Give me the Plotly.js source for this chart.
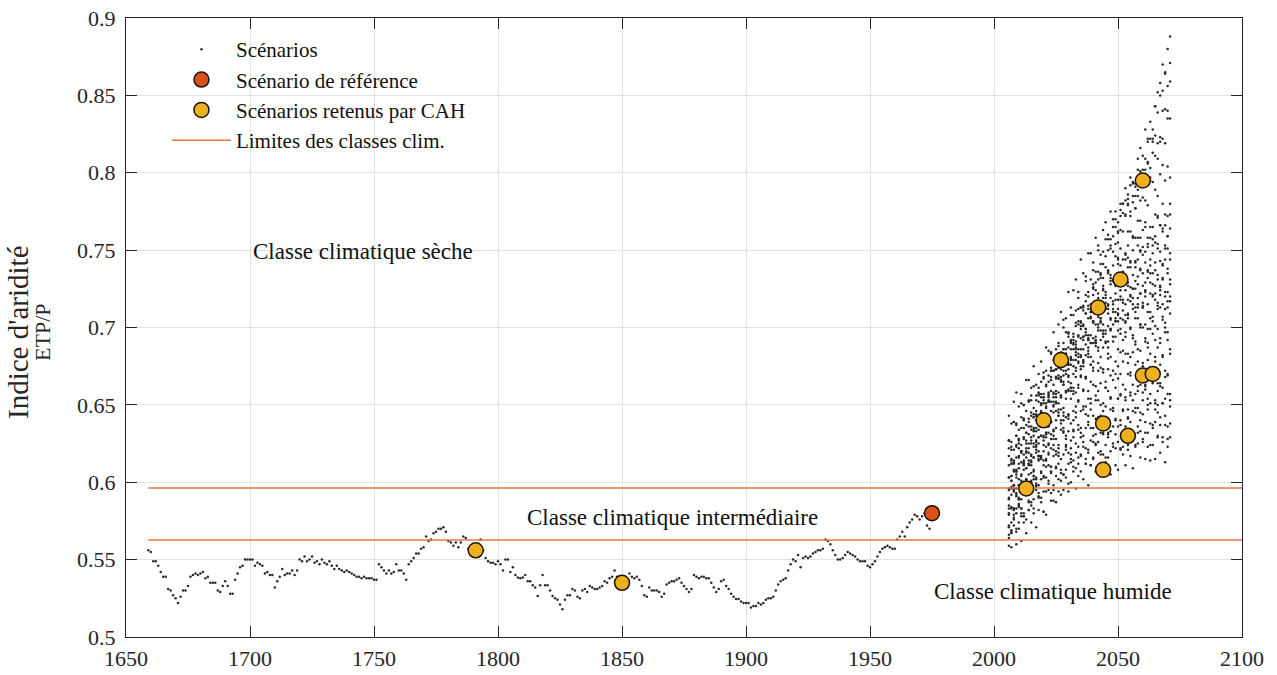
<!DOCTYPE html>
<html>
<head>
<meta charset="utf-8">
<script src="https://cdn.plot.ly/plotly-3.0.1.min.js"></script>
<style>html,body{margin:0;padding:0;background:#fff;}#chart{width:1277px;height:675px;}</style>
</head>
<body>
<div id="chart"></div>
<script>
// ---------- Historical reconstruction (one value per year, starting 1659) ----------
const histStartYear = 1659;
const histValues = [
0.556,0.555,0.549,0.549,0.546,0.542,0.539,0.539,0.531,0.530,
0.527,0.525,0.522,0.526,0.530,0.530,0.533,0.539,0.540,0.541,
0.540,0.541,0.542,0.538,0.539,0.535,0.535,0.535,0.530,0.529,
0.533,0.536,0.533,0.528,0.528,0.537,0.541,0.545,0.546,0.550,
0.550,0.550,0.550,0.546,0.548,0.547,0.546,0.541,0.542,0.540,
0.540,0.532,0.536,0.539,0.544,0.540,0.541,0.541,0.543,0.540,
0.543,0.550,0.549,0.552,0.549,0.550,0.552,0.548,0.549,0.547,
0.550,0.548,0.547,0.549,0.546,0.544,0.546,0.544,0.543,0.542,
0.543,0.542,0.541,0.540,0.539,0.539,0.538,0.539,0.538,0.538,
0.538,0.537,0.537,0.547,0.545,0.543,0.541,0.543,0.541,0.542,
0.547,0.543,0.543,0.541,0.537,0.547,0.549,0.551,0.554,0.554,
0.557,0.558,0.565,0.562,0.563,0.567,0.568,0.570,0.570,0.571,
0.568,0.562,0.561,0.559,0.561,0.558,0.561,0.565,0.564,0.557,
0.556,0.557,0.556,0.558,0.563,0.556,0.551,0.549,0.548,0.548,
0.547,0.549,0.547,0.543,0.550,0.550,0.542,0.545,0.540,0.5385,
0.538,0.5385,0.540,0.536,0.536,0.5335,0.532,0.5265,0.5335,0.540,
0.5335,0.5335,0.530,0.5265,0.525,0.524,0.521,0.518,0.524,0.527,
0.527,0.531,0.530,0.526,0.525,0.530,0.531,0.529,0.533,0.532,
0.531,0.531,0.532,0.533,0.536,0.535,0.538,0.539,0.543,0.539,
0.537,0.536,0.535,0.537,0.541,0.539,0.538,0.539,0.537,0.533,
0.527,0.526,0.532,0.530,0.530,0.530,0.529,0.526,0.528,0.534,
0.535,0.536,0.536,0.537,0.538,0.535,0.533,0.531,0.529,0.531,
0.540,0.539,0.538,0.539,0.539,0.538,0.538,0.535,0.532,0.529,
0.531,0.536,0.537,0.533,0.531,0.528,0.526,0.5245,0.5245,0.523,
0.522,0.522,0.522,0.519,0.520,0.520,0.522,0.521,0.522,0.524,
0.525,0.525,0.526,0.530,0.534,0.536,0.537,0.538,0.543,0.547,
0.550,0.549,0.553,0.545,0.551,0.552,0.551,0.552,0.554,0.555,
0.556,0.556,0.557,0.563,0.562,0.560,0.556,0.553,0.550,0.550,
0.551,0.553,0.555,0.554,0.553,0.552,0.550,0.549,0.549,0.549,
0.546,0.545,0.547,0.549,0.552,0.555,0.557,0.558,0.559,0.558,
0.557,0.557,0.563,0.565,0.568,0.565,0.571,0.574,0.576,0.579,
0.578,0.576,0.578,0.580,0.572,0.570
];

// ---------- Future scenarios: ETP/P in thousandths, one value per year from 2006 to 2071 ----------
const scenarioStartYear = 2006;
const scenA = [603,597,614,607,616,605,618,627,619,618,635,633,629,646,637, 637,652,652,650,668,669,666,663,679,687,679,689,684,702,704, 701,717,706,715,725,717,736,734,732,746,735,751,759,754,755, 772,762,773,780,772,793,785,785,801,802, 802,822,822,822,843,852,850,870,864,880,888];
const scenB = [622,614,613,630,628,624,641,632,631,645,644,640,657,657,653, 649,665,672,663,673,667,684,686,682,697,686,694,703,695,713, 711,709,723,712,728,736,731,732,749,739,750,757,749,770,762, 763,780,782,779,797,794,791,809,816,811, 828,820,833,828,843,839,858,853,865,856,871];
const scenC = [627,626,639,638,634,651,650,646,641,656,662,653,661,655,671, 672,669,684,672,681,690,681,700,697,694,708,696,711,719,713, 714,730,720,731,737,729,750,741,741,757,757,753,770,765,761, 776,780,772,786,775,785,777,789,782,798, 793,806,797,813,824,819,820,840,841,840,859];
const scenD = [643,638,652,658,649,657,650,666,666,661,675,663,670,678,668, 687,685,683,697,686,702,710,705,706,723,713,724,731,723,744, 735,733,748,748,742,758,753,747,763,768,760,775,765,775,768, 780,774,790,783,792,781,793,802,793,792, 809,807,803,820,811,809,823,822,819,835,835];
const scenE = [611,612,608,624,612,620,629,620,639,636,633,646,634,650,657, 651,652,668,657,668,674,665,686,677,676,692,692,687,704,699, 694,709,714,707,721,711,722,714,727,721,737,730,740,728,741, 751,744,744,762,762,759,777,769,769,784, 782,779,795,794,789,785,799,805,795,804,797];
const scenF = [583,601,598,596,609,597,612,619,614,614,630,619,629,636,627, 648,639,639,655,655,651,668,663,659,676,681,675,691,681,693, 686,699,693,710,703,713,702,715,724,716,715,732,731,727,744, 735,733,747,745,742,758,758,753,749,763, 768,758,765,757,773,772,766,780,766,772,780];
const scenG = [627,621,621,637,625,635,641,632,652,643,642,656,656,651,667, 662,658,674,679,673,688,678,690,683,696,691,708,701,712,701, 713,721,712,710,726,724,719,735,725,723,736,734,730,746,745, 740,734,748,753,743,750,743,758,758,752, 765,752,758,765,755,771,766,762,773,759,773];
const scenH = [572,592,583,583,598,598,593,609,605,600,616,621,614,630,620, 632,625,639,634,651,645,656,645,659,669,661,661,679,678,675, 692,682,681,695,693,690,707,706,702,698,712,719,710,718,712, 728,729,724,739,726,734,742,733,750,747, 742,754,740,753,759,751,749,764,751,759,764];
const scenI = [617,612,607,623,627,620,635,625,636,629,642,635,652,645,655, 644,657,666,658,657,674,673,669,686,677,676,690,689,686,703, 702,697,692,706,712,702,710,703,719,719,714,728,715,722,730, 720,736,732,727,739,725,739,744,737,735, 749,736,744,748,737,754,743,740,753,751,744];
const scenJ = [590,601,594,608,602,619,612,622,612,625,634,626,625,643,642, 638,655,646,645,659,658,655,672,672,668,664,679,686,677,686, 679,695,695,690,704,691,698,706,696,713,709,705,717,704,718, 724,716,715,729,717,725,730,719,738,727, 724,737,735,728,742,734,727,741,744,735,748];
const scenK = [580,569,582,592,584,583,600,599,596,613,604,603,617,617,614, 631,632,628,624,640,647,638,648,642,659,661,657,672,661,669, 677,668,685,681,678,690,677,692,698,691,691,706,694,704,709, 699,718,708,706,720,719,713,728,722,716, 729,732,722,735,722,731,721,732,723,738,728];
const scenL = [627,623,639,630,628,642,640,637,653,653,648,644,658,665,655, 663,656,672,672,667,681,668,675,683,673,690,686,682,694,681, 694,699,692,690,704,692,700,704,694,712,701,699,712,710,704, 718,711,704,718,721,712,725,713,722,713, 723,715,729,720,727,714,724,731,720,717,731];
const scenM = [579,596,596,593,589,604,611,602,612,606,623,624,620,636,624, 632,641,631,649,646,643,656,643,658,665,659,659,674,663,673, 678,668,687,676,674,688,687,681,696,690,683,698,702,694,708, 696,705,697,708,700,715,706,715,702,713, 720,710,706,721,718,712,726,715,712,723,720];
const scenN = [595,604,598,616,617,613,628,616,625,634,625,643,640,638,651, 638,653,659,652,652,667,655,665,670,660,680,670,668,683,682, 675,689,683,676,690,694,685,698,687,696,687,699,691,706,698, 706,692,703,709,699,695,710,706,700,714, 702,699,710,707,701,716,713,707,700,713,717];
const scenO = [559,567,576,568,586,583,580,593,582,597,604,598,598,615,604, 614,619,610,630,620,619,634,633,628,644,638,633,649,653,646, 660,649,659,651,663,656,672,664,673,661,673,681,672,670,686, 684,678,694,683,681,693,691,686,702,700, 693,687,699,704,692,699,690,705,703,697,709];
const scenP = [596,584,598,605,598,598,613,602,611,617,607,627,617,616,630, 629,624,639,633,628,643,647,640,654,643,654,646,658,652,668, 659,667,654,665,672,662,659,674,671,665,680,669,666,678,675, 670,685,683,677,671,684,689,678,685,677, 691,690,683,696,681,687,693,682,697,692,686];
const scenQ = [564,574,579,570,589,580,578,593,592,587,602,597,591,607,611, 603,618,607,617,610,622,615,632,624,633,622,634,642,634,632, 647,644,639,654,643,641,653,650,646,661,659,654,648,661,667, 656,663,655,670,669,663,676,662,668,675, 663,679,673,668,678,664,676,681,672,670,683];
const scenR = [585,583,577,591,585,578,593,596,587,601,589,599,590,602,594, 610,601,610,598,609,617,608,605,621,619,613,629,619,616,629, 626,622,637,635,630,624,637,643,632,639,632,647,646,641,654, 640,646,653,642,658,653,648,659,645,658, 662,654,651,665,651,659,662,651,668,657,653];
const scenS = [566,558,572,560,570,562,574,567,582,574,583,571,582,590,581, 579,595,593,588,604,594,592,605,603,599,615,614,609,604,618, 623,612,619,611,626,625,619,632,618,624,631,620,636,631,626, 637,623,636,641,633,631,645,632,640,644, 632,650,638,635,647,645,637,651,643,636,649];
const scenT = [589,604,595,603,590,601,608,599,596,611,608,602,617,606,603, 615,611,606,621,618,612,606,618,623,612,618,610,625,623,617, 630,615,621,627,616,631,626,620,631,616,629,633,625,622,636, 622,630,633,621,639,627,624,636,633,626, 639,632,624,637,639,630,642,629,637,628,638];
const scenU = [571,568,583,580,574,589,578,576,588,585,580,595,593,587,581, 594,599,588,595,587,602,601,595,608,594,600,607,596,612,607, 602,612,598,611,615,607,605,618,605,613,616,605,623,611,608, 621,618,611,624,617,609,623,625,616,628, 615,623,614,624,615,629,619,626,613,623,629];
const scenV = [603,615,612,607,622,620,614,609,622,627,616,623,615,630,629, 623,636,622,628,635,624,640,635,630,641,627,640,645,637,635, 649,635,643,647,635,653,642,638,651,649,641,655,648,640,654, 657,647,660,647,656,646,657,648,663,653, 660,647,657,664,653,650,664,661,654,669,657];
const scenarios = [scenA,scenB,scenC,scenD,scenE,scenF,scenG,scenH,scenI,scenJ,scenK,scenL,scenM,scenN,scenO,scenP,scenQ,scenR,scenS,scenT,scenU,scenV];

// ---------- Reference scenario and scenarios retained by CAH ----------
const refYear = [1975];
const refValue = [0.580];
const cahYears  = [1791, 1850, 2013, 2020, 2027, 2042, 2051, 2060, 2044, 2044, 2054, 2060, 2064];
const cahValues = [0.556, 0.535, 0.596, 0.640, 0.679, 0.713, 0.731, 0.795, 0.638, 0.608, 0.630, 0.669, 0.670];

// ---------- Climate class limits ----------
const limitValues = [0.5627, 0.5963];
const limitStartYear = 1659;
const limitEndYear = 2100;

// ---------- Labels ----------
const classLabels = ["Classe climatique sèche", "Classe climatique intermédiaire", "Classe climatique humide"];
const classLabelYears = [1745.6, 1870.2, 2023.8];
const classLabelValues = [0.7494, 0.5775, 0.5297];
const yTitleLines = ["Indice d'aridité", "ETP/P"];
const xTicks = [1650,1700,1750,1800,1850,1900,1950,2000,2050,2100];
const yTicks = [0.5,0.55,0.6,0.65,0.7,0.75,0.8,0.85,0.9];

// ---------- Build traces ----------
const histX = histValues.map((v,i) => histStartYear + i);
const scenX = [], scenY = [];
scenarios.forEach(s => s.forEach((v,i) => { scenX.push(scenarioStartYear + i); scenY.push(v/1000); }));
const limX = [], limY = [];
limitValues.forEach(v => { limX.push(limitStartYear, limitEndYear, null); limY.push(v, v, null); });

const FONT = "Liberation Serif, 'Times New Roman', Times, serif";
const dotStyle = {size: 2.5, color: '#2a2a2a'};

const traces = [
  {type:'scatter', mode:'markers', x: histX, y: histValues, marker: dotStyle, showlegend:false, hoverinfo:'skip', name:'Scénarios'},
  {type:'scatter', mode:'markers', x: scenX, y: scenY, marker: dotStyle, name:'Scénarios', legendrank:1},
  {type:'scatter', mode:'lines', x: limX, y: limY, line:{color:'#E5784A', width:1.6}, name:'Limites des classes clim.', legendrank:4},
  {type:'scatter', mode:'markers', x: refYear, y: refValue, marker:{size:15, color:'#D95319', line:{color:'#1f1208', width:1.5}}, name:'Scénario de référence', legendrank:2},
  {type:'scatter', mode:'markers', x: cahYears, y: cahValues, marker:{size:15, color:'#EDB120', line:{color:'#1f1208', width:1.5}}, name:'Scénarios retenus par CAH', legendrank:3}
];

const annotations = classLabels.map((t,i) => ({
  x: classLabelYears[i], y: classLabelValues[i], xref:'x', yref:'y', text:t, showarrow:false,
  font:{family:FONT, size:23, color:'#111'}, xanchor:'center', yanchor:'middle'
}));
// y-axis title, two rotated lines
annotations.push({x:-0.0968, y:0.4927, xref:'paper', yref:'paper', text:yTitleLines[0], textangle:-90, showarrow:false,
  font:{family:FONT, size:29, color:'#262626'}, xanchor:'center', yanchor:'middle'});
annotations.push({x:-0.0753, y:0.4927, xref:'paper', yref:'paper', text:yTitleLines[1], textangle:-90, showarrow:false,
  font:{family:FONT, size:22, color:'#262626'}, xanchor:'center', yanchor:'middle'});

const axisCommon = {
  showline:true, linecolor:'#262626', linewidth:1, mirror:'ticks',
  ticks:'inside', ticklen:11, tickcolor:'#262626', tickwidth:1,
  showgrid:true, gridcolor:'#e2e2e2', gridwidth:1, zeroline:false,
  tickfont:{family:FONT, size:22, color:'#262626'}
};

const layout = {
  width:1277, height:675,
  margin:{l:126, r:35, t:18, b:38, pad:0},
  paper_bgcolor:'#ffffff', plot_bgcolor:'#ffffff',
  font:{family:FONT, size:22, color:'#262626'},
  xaxis: Object.assign({}, axisCommon, {range:[1650,2100], tickvals:xTicks, ticktext:xTicks.map(String), automargin:false, ticklabelstandoff:2}),
  yaxis: Object.assign({}, axisCommon, {range:[0.5,0.9], tickvals:yTicks, ticktext:yTicks.map(String), automargin:false, ticklabelstandoff:5}),
  legend:{x:0.0367, y:0.982, xanchor:'left', yanchor:'top', bgcolor:'rgba(0,0,0,0)', borderwidth:0,
    font:{family:FONT, size:21, color:'#111'}, itemwidth:59, tracegroupgap:0},
  annotations: annotations,
  showlegend:true
};

Plotly.newPlot('chart', traces, layout, {displayModeBar:false, staticPlot:true});
</script>
</body>
</html>
